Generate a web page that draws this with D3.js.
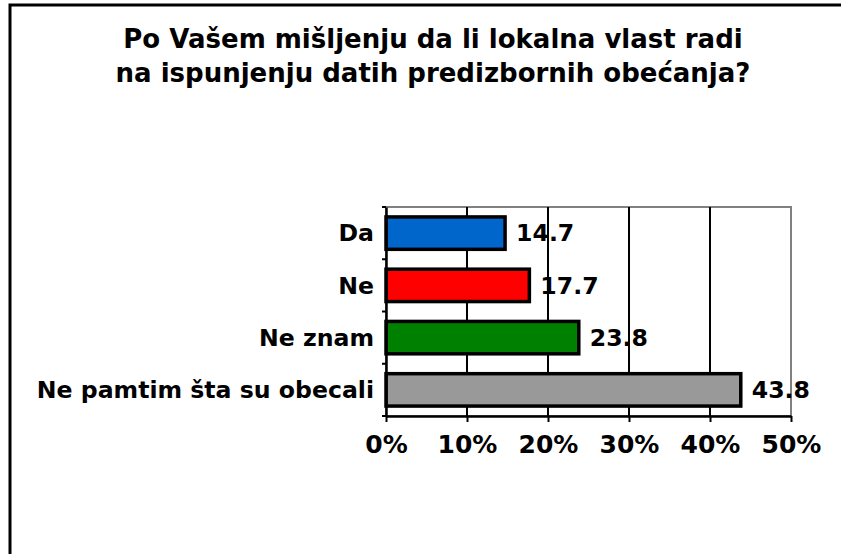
<!DOCTYPE html>
<html>
<head>
<meta charset="utf-8">
<script src="https://cdn.jsdelivr.net/npm/d3@7"></script>
<style>
  body { margin: 0; background: #fff; }
  text { font-family: "DejaVu Sans", Verdana, sans-serif; font-weight: bold; fill: #000; }
</style>
</head>
<body>
<svg width="841" height="554"></svg>
<script>
// DATA
const categories = ["Da", "Ne", "Ne znam", "Ne pamtim šta su obecali"];
const values = [14.7, 17.7, 23.8, 43.8];
const barColors = ["#0066cc", "#ff0000", "#008000", "#999999"];
const xTicks = [0, 10, 20, 30, 40, 50];
const titleLines = ["Po Vašem mišljenju da li lokalna vlast radi", "na ispunjenju datih predizbornih obećanja?"];

// LAYOUT
const PLOT = {left: 386, right: 791, top: 207, bottom: 416};
const FONT = "23.6px";

const svg = d3.select("svg");

// outer frame
svg.append("rect")
    .attr("x", 10).attr("y", 5)
    .attr("width", 850).attr("height", 600)
    .attr("fill", "none")
    .attr("stroke", "#000")
    .attr("stroke-width", 3);

svg.selectAll(".title")
    .data(titleLines)
    .enter()
    .append("text")
    .attr("class", "title")
    .attr("x", 433)
    .attr("y", (d, i) => 48 + i * 34)
    .attr("text-anchor", "middle")
    .style("font-size", "26px")
    .text(d => d);

const x = d3.scaleLinear().domain([0, 50]).range([PLOT.left, PLOT.right]);
const y = d3.scaleBand().domain(categories).range([PLOT.top, PLOT.bottom]).paddingInner(0.38).paddingOuter(0.19);

// plot border (gray top/right)
svg.append("rect")
    .attr("x", PLOT.left).attr("y", PLOT.top)
    .attr("width", PLOT.right - PLOT.left).attr("height", PLOT.bottom - PLOT.top)
    .attr("fill", "none")
    .attr("stroke", "#808080")
    .attr("stroke-width", 2);

// gridlines
svg.selectAll(".grid")
    .data(xTicks.slice(1, -1))
    .enter()
    .append("line")
    .attr("x1", d => x(d)).attr("x2", d => x(d))
    .attr("y1", PLOT.top).attr("y2", PLOT.bottom)
    .attr("stroke", "#000")
    .attr("stroke-width", 2);

// bars
svg.selectAll(".bar")
    .data(values)
    .enter()
    .append("rect")
    .attr("class", "bar")
    .attr("x", x(0))
    .attr("y", (d, i) => y(categories[i]))
    .attr("width", d => x(d) - x(0))
    .attr("height", y.bandwidth())
    .attr("fill", (d, i) => barColors[i])
    .attr("stroke", "#000")
    .attr("stroke-width", 3.5);

// value labels
svg.selectAll(".val")
    .data(values)
    .enter()
    .append("text")
    .attr("x", d => x(d) + 11)
    .attr("y", (d, i) => y(categories[i]) + y.bandwidth() / 2)
    .attr("dy", "0.35em")
    .style("font-size", FONT)
    .text(d => d.toFixed(1));

// x axis
const xAxis = svg.append("g")
    .attr("transform", `translate(0,${PLOT.bottom})`)
    .call(d3.axisBottom(x).tickValues(xTicks).tickFormat(d => d + "%").tickSize(6).tickSizeOuter(0));
xAxis.select(".domain").attr("stroke-width", 2.5);
xAxis.selectAll(".tick line").attr("stroke-width", 2);
xAxis.selectAll("text").style("font-size", "25px").attr("y", 37).attr("dy", 0);

// y axis
const yAxis = svg.append("g")
    .attr("transform", `translate(${PLOT.left},0)`)
    .call(d3.axisLeft(y).tickSize(0).tickPadding(12));
yAxis.select(".domain").attr("stroke-width", 2.5);
yAxis.selectAll("text").style("font-size", FONT).attr("dy", "0.35em");

// y boundary ticks
svg.selectAll(".ytick")
    .data(d3.range(categories.length + 1))
    .enter()
    .append("line")
    .attr("x1", PLOT.left - 4).attr("x2", PLOT.left)
    .attr("y1", i => PLOT.top + i * (PLOT.bottom - PLOT.top) / categories.length)
    .attr("y2", i => PLOT.top + i * (PLOT.bottom - PLOT.top) / categories.length)
    .attr("stroke", "#000")
    .attr("stroke-width", 2);
</script>
</body>
</html>
